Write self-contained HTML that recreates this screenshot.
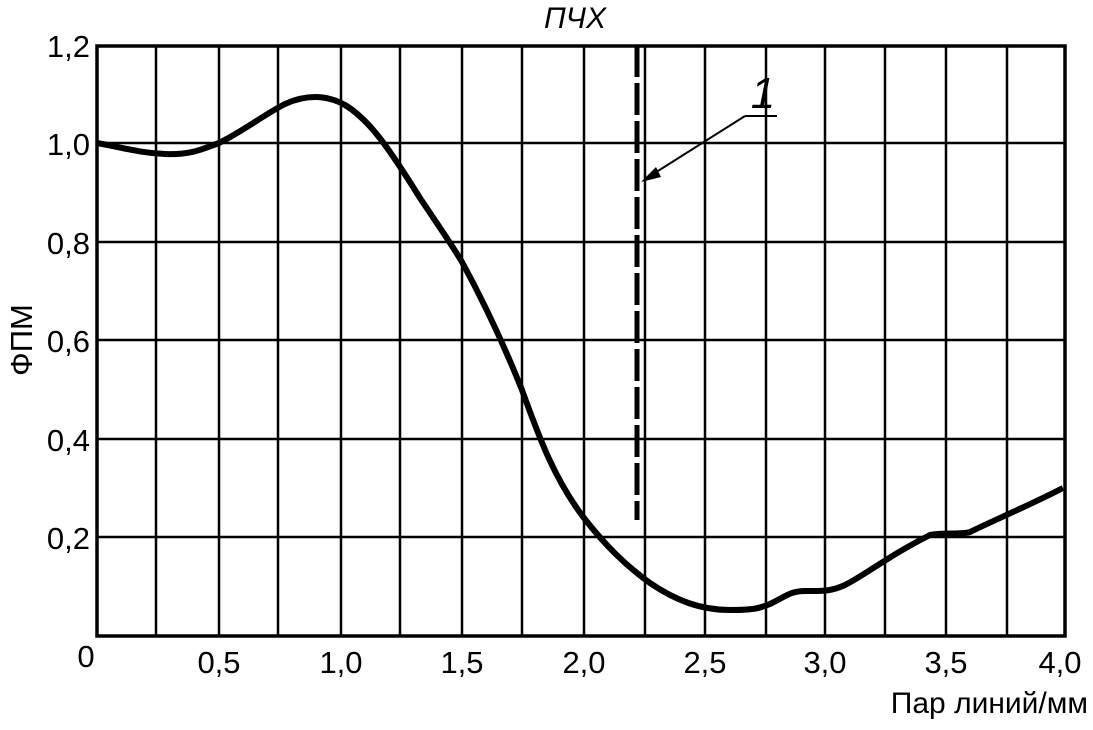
<!DOCTYPE html>
<html><head><meta charset="utf-8"><style>body{margin:0;background:#fff}</style></head><body>
<svg width="1093" height="725" xmlns="http://www.w3.org/2000/svg" font-family="Liberation Sans, sans-serif">
<g stroke="#000" stroke-width="2.5" fill="none">
<path d="M156 46V636M219 46V636M278 46V636M341 46V636M400 46V636M462 46V636M522 46V636M584 46V636M645 46V636M705 46V636M766 46V636M825 46V636M885 46V636M946 46V636M1007 46V636"/>
<path d="M97 143H1065M97 242H1065M97 340H1065M97 439H1065M97 537H1065"/>
<rect x="97" y="46" width="968" height="590" stroke-width="3.5"/>
</g>
<line x1="637" y1="45" x2="637" y2="520" stroke="#000" stroke-width="5" stroke-dasharray="32,6"/>
<path d="M97,143 C125,148 140,153 165,154 C190,155 200,150 219,143 C245,130 265,114 285,104 C305,95 325,94 345,105 C370,120 390,150 420,198 C440,228 452,245 462,262 C480,295 500,335 522,390 C540,440 555,480 584,518 C605,545 625,565 650,583 C675,600 700,610 730,610 C755,610 760,608 770,604 C785,597 790,591 805,591 C820,591 830,592 845,585 C865,575 890,555 930,535 C945,532 960,535 970,532 C990,522 1030,505 1063,488" stroke="#000" stroke-width="6" fill="none"/>
<line x1="777" y1="116" x2="745" y2="116" stroke="#000" stroke-width="2"/>
<line x1="745" y1="116" x2="650" y2="176" stroke="#000" stroke-width="2"/>
<polygon points="641,182 656,167 661,177" fill="#000"/>
<text x="763" y="108" font-size="44" font-style="italic" text-anchor="middle">1</text>
<text x="575" y="28" font-size="30" font-style="italic" text-anchor="middle">ПЧХ</text>
<g font-size="31" text-anchor="end">
<text x="90" y="57">1,2</text><text x="90" y="155">1,0</text><text x="90" y="254">0,8</text>
<text x="90" y="352">0,6</text><text x="90" y="451">0,4</text><text x="90" y="549">0,2</text>
</g>
<g font-size="31" text-anchor="middle">
<text x="86" y="667">0</text><text x="219" y="673">0,5</text><text x="341" y="673">1,0</text><text x="462" y="673">1,5</text>
<text x="584" y="673">2,0</text><text x="705" y="673">2,5</text><text x="825" y="673">3,0</text><text x="946" y="673">3,5</text><text x="1060" y="673">4,0</text>
</g>
<text x="1088" y="713" font-size="30" text-anchor="end">Пар линий/мм</text>
<text transform="translate(32,340) rotate(-90)" font-size="31" text-anchor="middle">ФПМ</text>
</svg>
</body></html>
